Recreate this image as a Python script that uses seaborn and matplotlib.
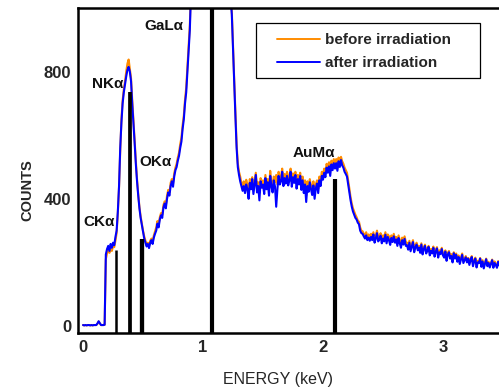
import numpy as np
import pandas as pd
import matplotlib
matplotlib.use("Agg")
import matplotlib.pyplot as plt
import seaborn as sns
from matplotlib.ticker import MultipleLocator
from matplotlib.patches import Rectangle

# ---------------- data ----------------
channel_start = 0.0     # keV
channel_width = 0.01    # keV per channel

after_counts = [
    3, 2, 3, 2, 3, 3, 2, 3, 2, 3,
    3, 3, 8, 15, 9, 3, 3, 3, 4, 225,
    242, 252, 236, 258, 246, 262, 254, 280, 300, 360,
    440, 560, 640, 700, 735, 760, 785, 805, 815, 800,
    770, 700, 640, 576, 510, 455, 410, 370, 340, 318,
    295, 275, 262, 250, 258, 245, 262, 270, 258, 278,
    290, 300, 322, 310, 335, 348, 340, 372, 385, 370,
    400, 420, 410, 440, 455, 438, 470, 490, 500, 520,
    535, 560, 580, 620, 650, 700, 735, 800, 860, 930,
    1050, 1200, 1400, 1700, 2000, 2400, 2800, 3200, 3600, 4000,
    4400, 4800, 5100, 5300, 5400, 5400, 5300, 5100, 4800, 4500,
    4100, 3700, 3300, 2900, 2500, 2100, 1800, 1550, 1350, 1200,
    1150, 1100, 1060, 1030, 980, 870, 760, 660, 560, 500,
    475, 455, 440, 425, 440, 418, 445, 430, 400, 450,
    430, 462, 415, 445, 475, 420, 440, 395, 455, 435,
    445, 415, 465, 430, 452, 410, 472, 440, 420, 458,
    438, 375, 430, 472, 445, 455, 485, 440, 465, 448,
    472, 442, 458, 485, 438, 468, 450, 475, 432, 462,
    445, 472, 428, 458, 418, 445, 390, 440, 422, 452,
    430, 412, 442, 400, 432, 448, 418, 458, 440, 472,
    460, 482, 468, 498, 482, 502, 472, 508, 490, 512,
    495, 512, 488, 518, 500, 522, 505, 498, 485, 478,
    470, 445, 420, 395, 375, 360, 350, 340, 335, 325,
    320, 300, 292, 290, 282, 275, 285, 270, 278, 268,
    280, 270, 288, 262, 275, 292, 266, 272, 284, 260,
    275, 266, 287, 260, 280, 270, 255, 277, 264, 282,
    262, 272, 252, 277, 260, 246, 270, 256, 274, 252,
    254, 240, 262, 235, 250, 264, 232, 247, 256, 238,
    247, 230, 256, 225, 242, 252, 228, 237, 249, 222,
    237, 228, 246, 218, 234, 244, 215, 232, 226, 242,
    222, 215, 234, 205, 224, 232, 212, 220, 200, 229,
    212, 224, 202, 217, 195, 210, 224, 198, 207, 216,
    200, 212, 192, 207, 217, 188, 203, 212, 184, 200,
    198, 212, 186, 203, 181, 196, 210, 188, 198, 184,
    195, 207, 183, 198, 192, 183, 202, 190,
]

before_counts = [
    3, 2, 3, 2, 3, 3, 2, 3, 2, 3,
    3, 3, 7, 14, 8, 3, 3, 3, 4, 210,
    228, 240, 230, 245, 236, 250, 248, 268, 292, 355,
    435, 550, 650, 710, 745, 770, 800, 825, 838, 810,
    780, 710, 650, 585, 520, 462, 415, 375, 345, 322,
    300, 282, 268, 255, 262, 250, 268, 275, 265, 285,
    298, 310, 330, 318, 342, 355, 350, 380, 392, 378,
    410, 428, 418, 450, 462, 448, 480, 498, 510, 530,
    545, 572, 592, 632, 662, 712, 750, 815, 875, 945,
    1070, 1220, 1420, 1720, 2020, 2420, 2820, 3220, 3620, 4020,
    4420, 4820, 5120, 5320, 5420, 5420, 5320, 5120, 4820, 4520,
    4120, 3720, 3320, 2920, 2520, 2120, 1820, 1570, 1370, 1220,
    1160, 1110, 1070, 1040, 990, 880, 775, 672, 572, 512,
    485, 470, 450, 440, 455, 430, 460, 445, 425, 462,
    445, 468, 432, 458, 482, 440, 452, 418, 465, 448,
    458, 435, 475, 442, 462, 430, 488, 452, 440, 470,
    452, 475, 445, 485, 460, 470, 495, 455, 478, 462,
    485, 460, 470, 495, 455, 480, 462, 485, 448, 475,
    460, 482, 445, 470, 432, 458, 410, 455, 438, 462,
    442, 428, 455, 418, 445, 458, 432, 470, 455, 485,
    475, 495, 482, 510, 498, 515, 488, 520, 505, 525,
    510, 525, 505, 530, 515, 532, 518, 510, 498, 490,
    482, 458, 432, 405, 385, 370, 360, 350, 342, 332,
    328, 310, 300, 298, 290, 283, 295, 280, 288, 278,
    290, 280, 295, 275, 285, 300, 278, 282, 292, 272,
    285, 278, 295, 272, 288, 282, 268, 285, 275, 290,
    272, 280, 265, 285, 270, 258, 278, 268, 282, 265,
    262, 250, 268, 245, 258, 270, 242, 255, 262, 248,
    252, 238, 260, 232, 248, 256, 236, 243, 252, 230,
    242, 236, 250, 226, 240, 248, 223, 238, 233, 246,
    226, 222, 238, 212, 230, 236, 220, 226, 208, 232,
    217, 228, 210, 222, 203, 216, 228, 206, 213, 220,
    205, 214, 198, 212, 220, 195, 208, 215, 191, 205,
    202, 214, 193, 207, 188, 200, 212, 195, 202, 191,
    198, 209, 189, 203, 196, 190, 204, 194,
]

line_labels = ["CKα", "NKα", "OKα", "GaLα", "AuMα"]
line_energies = [0.275, 0.39, 0.49, 1.075, 2.10]      # keV (bar positions)
line_heights = [240, 735, 275, 1100, 462]              # counts (bar tops)
label_pos_x = [0.13, 0.205, 0.60, 0.675, 1.92]
label_pos_y = [327, 762, 517, 942, 545]

series_names = ["before irradiation", "after irradiation"]
series_colors = ["#FF8C00", "#0000FF"]

n = len(after_counts)
energy = [round(channel_start + i * channel_width, 2) for i in range(n)]
df = pd.DataFrame({
    "energy": energy * 2,
    "counts": before_counts + after_counts,
    "series": [series_names[0]] * n + [series_names[1]] * n,
})

# ---------------- style ----------------
sns.set_style("white")
plt.rcParams["font.family"] = ["Liberation Sans", "DejaVu Sans"]

W, H = 499, 390
fig = plt.figure(figsize=(W / 100, H / 100), dpi=100)
ax_l, ax_r, ax_t, ax_b = 78, 499, 8, 333
ax = fig.add_axes([ax_l / W, 1 - ax_b / H, (ax_r - ax_l) / W, (ax_b - ax_t) / H])
aw, ah = ax_r - ax_l, ax_b - ax_t

def ax_coords(px, py):
    return (px - ax_l) / aw, (ax_b - py) / ah

sns.lineplot(data=df, x="energy", y="counts", hue="series",
             hue_order=series_names, palette=series_colors,
             linewidth=1.5, sort=False, estimator=None, ax=ax)

bar_widths = [1.8, 2.7, 3.1, 3.0, 3.0]
for e, h, w in zip(line_energies, line_heights, bar_widths):
    ax.vlines(e, -22, h, color="black", linewidth=w, zorder=5)

for lab, x, y in zip(line_labels, label_pos_x, label_pos_y):
    ax.text(x, y, lab, ha="center", va="center", fontsize=11,
            fontweight="bold", color="#111111")

ax.set_xlim(-0.042, 3.467)
ax.set_ylim(-22, 1000)
ax.xaxis.set_major_locator(MultipleLocator(1))
ax.xaxis.set_minor_locator(MultipleLocator(0.2))
ax.yaxis.set_major_locator(MultipleLocator(400))
ax.yaxis.set_minor_locator(MultipleLocator(200))
ax.tick_params(axis="both", which="major", direction="in", length=6,
               width=1.3, labelsize=12, pad=5)
ax.tick_params(axis="both", which="minor", direction="in", length=4,
               width=1.3)
for lbl in ax.get_xticklabels() + ax.get_yticklabels():
    lbl.set_fontweight("bold")

for side in ["left", "bottom", "top"]:
    ax.spines[side].set_linewidth(1.8)
    ax.spines[side].set_color("black")
ax.spines["right"].set_visible(False)

ax.set_xlabel("ENERGY (keV)", fontsize=11.5)
ax.xaxis.set_label_coords(*ax_coords(278, 372))
ax.set_ylabel("COUNTS", fontsize=10.5, fontweight="bold")
ax.yaxis.set_label_coords(*ax_coords(34, 190))

# legend: frameless entries plus a separate rectangular frame
leg = ax.legend(loc="upper left", bbox_to_anchor=ax_coords(277, 33),
                fontsize=11, frameon=False,
                handlelength=2.8, handletextpad=0.33, borderpad=0,
                labelspacing=0.62, borderaxespad=0)
for t in leg.get_texts():
    t.set_fontweight("bold")
for l in leg.get_lines():
    l.set_linewidth(1.4)
x0, y1 = ax_coords(256, 23)
x1, y0 = ax_coords(480, 78)
ax.add_patch(Rectangle((x0, y0), x1 - x0, y1 - y0, transform=ax.transAxes,
                       facecolor="white", edgecolor="black", linewidth=0.9,
                       zorder=4))
leg.set_zorder(6)

fig.savefig("out.png", dpi=100)
